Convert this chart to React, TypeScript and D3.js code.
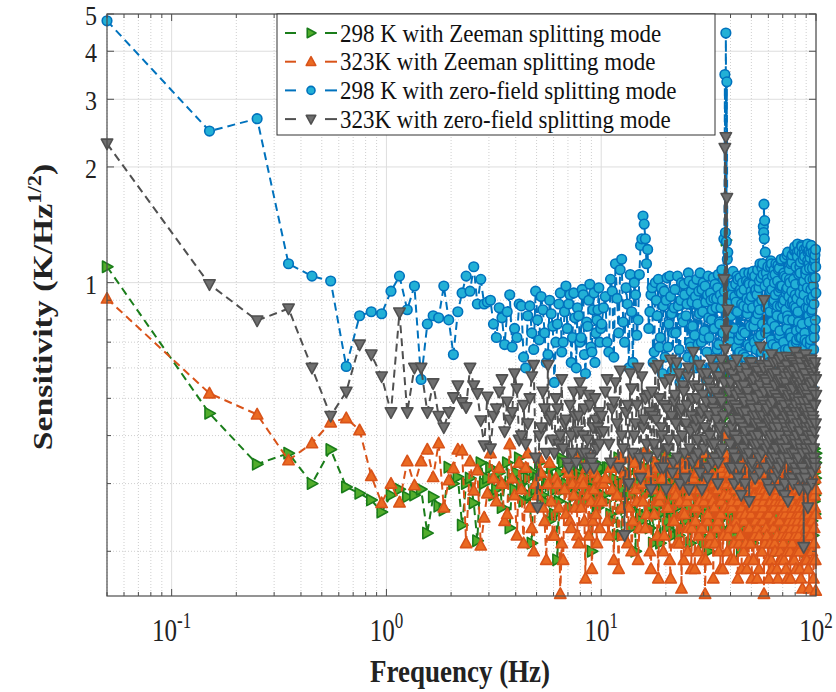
import React from "react";
import * as d3 from "d3";

// FFT frequency bins (Hz): start, spacing, count for each block.
// Block 3 holds the bins that fall between those of block 2.
const binStart = [0.05, 10.05, 10.25];
const binStep = [0.1, 0.4, 0.4];
const binCount = [100, 225, 225];

// 298 K with Zeeman splitting mode
const zeeman298 = [
  // 0.05 - 2.95 Hz
  1.1, 0.457, 0.337, 0.36, 0.3, 0.368, 0.294, 0.283, 0.272, 0.253,
  0.28, 0.29, 0.277, 0.28, 0.29, 0.223, 0.277, 0.262, 0.256, 0.331,
  0.3, 0.312, 0.234, 0.3, 0.31, 0.267, 0.213, 0.34, 0.3, 0.31,
  // 3.05 - 9.95 Hz
  0.33, 0.28, 0.29, 0.32, 0.26, 0.3, 0.34, 0.23, 0.31, 0.29, 0.32, 0.35, 0.3, 0.27, 0.33,
  0.31, 0.28, 0.21, 0.32, 0.29, 0.31, 0.34, 0.32, 0.28, 0.27, 0.3, 0.3, 0.24, 0.33, 0.31,
  0.25, 0.29, 0.19, 0.27, 0.32, 0.35, 0.34, 0.29, 0.3, 0.33, 0.29, 0.26, 0.33, 0.31, 0.31,
  0.35, 0.28, 0.3, 0.32, 0.27, 0.35, 0.31, 0.3, 0.34, 0.27, 0.29, 0.31, 0.33, 0.33, 0.28,
  0.2, 0.3, 0.29, 0.34, 0.32, 0.27, 0.26, 0.31, 0.3, 0.33,
  // 10.05 - 99.65 Hz
  0.3, 0.27, 0.33, 0.24, 0.29, 0.35, 0.22, 0.31, 0.26, 0.28, 0.34, 0.2, 0.3, 0.25, 0.32,
  0.28, 0.36, 0.23, 0.29, 0.31, 0.26, 0.34, 0.21, 0.3, 0.27, 0.33, 0.24, 0.35, 0.28, 0.22,
  0.31, 0.26, 0.34, 0.29, 0.23, 0.32, 0.27, 0.35, 0.25, 0.3, 0.21, 0.33, 0.28, 0.24, 0.31,
  0.36, 0.26, 0.29, 0.22, 0.33, 0.27, 0.31, 0.25, 0.34, 0.2, 0.3, 0.28, 0.35, 0.23, 0.29,
  0.32, 0.26, 0.34, 0.24, 0.3, 0.27, 0.33, 0.22, 0.35, 0.6, 1.29, 0.45, 0.31, 0.25, 0.28,
  0.34, 0.21, 0.3, 0.27, 0.36, 0.24, 0.32, 0.29, 0.23, 0.33, 0.26, 0.31, 0.2, 0.35, 0.28,
  0.25, 0.32, 0.29, 0.34, 0.22, 0.3, 0.27, 0.36, 0.24, 0.31, 0.28, 0.33, 0.21, 0.29, 0.35,
  0.26, 0.3, 0.23, 0.34, 0.28, 0.32, 0.25, 0.35, 0.22, 0.31, 0.27, 0.33, 0.29, 0.24, 0.36,
  0.3, 0.25, 0.33, 0.21, 0.29, 0.34, 0.27, 0.31, 0.23, 0.35, 0.28, 0.26, 0.32, 0.22, 0.3,
  0.36, 0.24, 0.31, 0.28, 0.33, 0.2, 0.29, 0.35, 0.26, 0.32, 0.23, 0.3, 0.34, 0.27, 0.25,
  0.31, 0.36, 0.22, 0.29, 0.33, 0.26, 0.35, 0.24, 0.3, 0.28, 0.34, 0.21, 0.32, 0.27, 0.29,
  0.35, 0.23, 0.31, 0.26, 0.34, 0.29, 0.22, 0.33, 0.28, 0.36, 0.25, 0.3, 0.27, 0.32, 0.24,
  0.29, 0.34, 0.21, 0.31, 0.27, 0.35, 0.25, 0.3, 0.33, 0.22, 0.36, 0.28, 0.26, 0.32, 0.3,
  0.24, 0.35, 0.29, 0.33, 0.2, 0.31, 0.27, 0.36, 0.25, 0.3, 0.34, 0.23, 0.32, 0.28, 0.35,
  0.26, 0.31, 0.37, 0.29, 0.24, 0.34, 0.3, 0.22, 0.33, 0.36, 0.27, 0.32, 0.25, 0.35, 0.34,
  // 10.25 - 99.85 Hz
  0.28, 0.33, 0.25, 0.31, 0.22, 0.34, 0.29, 0.26, 0.32, 0.23, 0.3, 0.35, 0.27, 0.24, 0.31,
  0.33, 0.26, 0.3, 0.21, 0.34, 0.28, 0.25, 0.32, 0.29, 0.36, 0.23, 0.3, 0.27, 0.33, 0.25,
  0.29, 0.34, 0.22, 0.31, 0.27, 0.35, 0.24, 0.3, 0.33, 0.26, 0.32, 0.28, 0.23, 0.34, 0.3,
  0.25, 0.32, 0.28, 0.35, 0.21, 0.31, 0.26, 0.33, 0.29, 0.24, 0.34, 0.27, 0.31, 0.22, 0.33,
  0.28, 0.35, 0.25, 0.3, 0.33, 0.23, 0.31, 0.27, 0.34, 0.35, 0.5, 0.29, 0.26, 0.32, 0.3,
  0.24, 0.33, 0.28, 0.31, 0.22, 0.35, 0.27, 0.3, 0.34, 0.25, 0.32, 0.29, 0.36, 0.23, 0.31,
  0.33, 0.27, 0.3, 0.24, 0.35, 0.29, 0.32, 0.21, 0.34, 0.28, 0.31, 0.26, 0.33, 0.3, 0.23,
  0.32, 0.28, 0.35, 0.25, 0.3, 0.34, 0.22, 0.31, 0.29, 0.33, 0.26, 0.36, 0.28, 0.31, 0.24,
  0.34, 0.29, 0.27, 0.32, 0.25, 0.35, 0.3, 0.23, 0.33, 0.28, 0.31, 0.35, 0.26, 0.3, 0.33,
  0.27, 0.32, 0.29, 0.24, 0.34, 0.3, 0.36, 0.25, 0.31, 0.28, 0.33, 0.22, 0.35, 0.29, 0.32,
  0.26, 0.33, 0.3, 0.35, 0.23, 0.31, 0.28, 0.34, 0.27, 0.32, 0.24, 0.36, 0.29, 0.33, 0.3,
  0.28, 0.35, 0.25, 0.32, 0.3, 0.27, 0.34, 0.31, 0.23, 0.33, 0.29, 0.36, 0.26, 0.31, 0.34,
  0.32, 0.27, 0.35, 0.24, 0.3, 0.33, 0.28, 0.36, 0.26, 0.31, 0.29, 0.34, 0.23, 0.35, 0.28,
  0.31, 0.26, 0.33, 0.29, 0.36, 0.25, 0.32, 0.3, 0.34, 0.22, 0.35, 0.28, 0.31, 0.33, 0.27,
  0.34, 0.29, 0.32, 0.36, 0.27, 0.31, 0.35, 0.25, 0.3, 0.33, 0.37, 0.28, 0.34, 0.31, 0.36,
];

// 323K with Zeeman splitting mode
const zeeman323 = [
  0.909, 0.515, 0.454, 0.345, 0.382, 0.433, 0.444, 0.413, 0.314, 0.267,
  0.3, 0.268, 0.343, 0.297, 0.343, 0.368, 0.312, 0.382, 0.26, 0.306,
  0.329, 0.368, 0.366, 0.21, 0.343, 0.288, 0.325, 0.207, 0.245, 0.283,
  0.36, 0.31, 0.27, 0.33, 0.3, 0.24, 0.25, 0.38, 0.31, 0.28, 0.22, 0.34, 0.29, 0.21, 0.33,
  0.36, 0.26, 0.23, 0.2, 0.3, 0.28, 0.35, 0.32, 0.26, 0.24, 0.19, 0.3, 0.34, 0.27, 0.22,
  0.22, 0.31, 0.3, 0.26, 0.155, 0.21, 0.19, 0.29, 0.25, 0.33, 0.32, 0.24, 0.23, 0.3, 0.28,
  0.26, 0.35, 0.22, 0.21, 0.3, 0.26, 0.31, 0.3, 0.24, 0.17, 0.33, 0.28, 0.22, 0.35, 0.27,
  0.18, 0.24, 0.29, 0.32, 0.25, 0.21, 0.31, 0.27, 0.23, 0.3,
  0.27, 0.31, 0.22, 0.29, 0.34, 0.18, 0.26, 0.32, 0.21, 0.35, 0.24, 0.29, 0.19, 0.33, 0.27,
  0.23, 0.36, 0.2, 0.3, 0.25, 0.33, 0.17, 0.28, 0.31, 0.22, 0.34, 0.26, 0.19, 0.32, 0.24,
  0.29, 0.21, 0.35, 0.27, 0.16, 0.3, 0.25, 0.33, 0.2, 0.28, 0.36, 0.23, 0.31, 0.18, 0.26,
  0.32, 0.22, 0.29, 0.34, 0.19, 0.27, 0.155, 0.3, 0.24, 0.33, 0.21, 0.28, 0.35, 0.17, 0.26,
  0.31, 0.23, 0.29, 0.2, 0.34, 0.25, 0.32, 0.18, 0.28, 0.36, 0.4, 0.3, 0.22, 0.33, 0.26,
  0.19, 0.31, 0.27, 0.35, 0.21, 0.29, 0.24, 0.33, 0.17, 0.28, 0.32, 0.22, 0.3, 0.26, 0.34,
  0.2, 0.29, 0.25, 0.36, 0.18, 0.31, 0.27, 0.23, 0.33, 0.21, 0.3, 0.26, 0.35, 0.19, 0.28,
  0.32, 0.24, 0.3, 0.17, 0.27, 0.34, 0.22, 0.29, 0.25, 0.33, 0.2, 0.31, 0.26, 0.155, 0.29,
  0.35, 0.23, 0.28, 0.32, 0.19, 0.3, 0.25, 0.34, 0.21, 0.27, 0.31, 0.18, 0.29, 0.24, 0.33,
  0.26, 0.2, 0.35, 0.28, 0.22, 0.31, 0.17, 0.29, 0.34, 0.24, 0.27, 0.32, 0.19, 0.3, 0.25,
  0.33, 0.21, 0.28, 0.36, 0.23, 0.3, 0.18, 0.26, 0.32, 0.2, 0.34, 0.27, 0.22, 0.29, 0.31,
  0.17, 0.25, 0.33, 0.28, 0.21, 0.35, 0.24, 0.3, 0.19, 0.32, 0.26, 0.29, 0.23, 0.34, 0.2,
  0.28, 0.31, 0.22, 0.36, 0.25, 0.18, 0.3, 0.27, 0.33, 0.21, 0.29, 0.16, 0.32, 0.24, 0.35,
  0.26, 0.3, 0.19, 0.28, 0.34, 0.23, 0.31, 0.21, 0.27, 0.33, 0.18, 0.29, 0.25, 0.35, 0.22,
  0.3, 0.24, 0.32, 0.27, 0.2, 0.34, 0.26, 0.29, 0.17, 0.31, 0.23, 0.28, 0.33, 0.19, 0.158,
  0.3, 0.24, 0.33, 0.19, 0.28, 0.35, 0.22, 0.31, 0.26, 0.2, 0.34, 0.27, 0.23, 0.3, 0.36,
  0.25, 0.32, 0.18, 0.29, 0.34, 0.22, 0.27, 0.31, 0.2, 0.35, 0.26, 0.29, 0.17, 0.33, 0.24,
  0.28, 0.33, 0.21, 0.3, 0.25, 0.19, 0.34, 0.27, 0.23, 0.31, 0.18, 0.29, 0.35, 0.24, 0.32,
  0.2, 0.27, 0.33, 0.23, 0.3, 0.36, 0.19, 0.28, 0.25, 0.32, 0.22, 0.34, 0.27, 0.3, 0.21,
  0.29, 0.35, 0.24, 0.31, 0.18, 0.27, 0.33, 0.22, 0.3, 0.26, 0.34, 0.2, 0.28, 0.32, 0.23,
  0.34, 0.26, 0.3, 0.19, 0.29, 0.33, 0.23, 0.36, 0.27, 0.21, 0.31, 0.25, 0.18, 0.32, 0.28,
  0.24, 0.33, 0.21, 0.3, 0.27, 0.35, 0.19, 0.29, 0.32, 0.25, 0.17, 0.31, 0.28, 0.34, 0.22,
  0.3, 0.26, 0.35, 0.23, 0.31, 0.18, 0.28, 0.33, 0.2, 0.29, 0.36, 0.24, 0.27, 0.32, 0.21,
  0.28, 0.34, 0.22, 0.3, 0.25, 0.17, 0.33, 0.27, 0.31, 0.19, 0.35, 0.26, 0.29, 0.23, 0.32,
  0.21, 0.3, 0.27, 0.34, 0.18, 0.29, 0.33, 0.24, 0.31, 0.26, 0.2, 0.35, 0.28, 0.22, 0.3,
  0.27, 0.33, 0.19, 0.31, 0.25, 0.36, 0.22, 0.29, 0.17, 0.32, 0.28, 0.24, 0.34, 0.3, 0.2,
  0.32, 0.23, 0.29, 0.35, 0.26, 0.19, 0.31, 0.27, 0.34, 0.22, 0.3, 0.18, 0.33, 0.25, 0.29,
  0.24, 0.35, 0.28, 0.2, 0.32, 0.26, 0.3, 0.17, 0.34, 0.29, 0.23, 0.31, 0.27, 0.36, 0.21,
  0.33, 0.25, 0.3, 0.22, 0.35, 0.28, 0.19, 0.32, 0.26, 0.3, 0.24, 0.34, 0.16, 0.29, 0.31,
  0.22, 0.32, 0.27, 0.35, 0.24, 0.3, 0.19, 0.33, 0.28, 0.21, 0.34, 0.26, 0.31, 0.25, 0.29,
];

// 298 K with zero-field splitting mode
const zeroField298 = [
  4.8, 2.48, 2.67, 1.12, 1.04, 1.01, 0.605, 0.82, 0.84, 0.83,
  0.95, 1.04, 0.85, 0.98, 0.56, 0.78, 0.82, 0.81, 0.98, 0.8,
  0.65, 0.84, 0.94, 1.04, 0.95, 1.1, 0.88, 1.02, 0.88, 0.89,
  0.9, 0.78, 0.72, 0.86, 0.81, 0.69, 0.84, 0.93, 0.68, 0.76, 0.72, 0.88, 0.87, 0.64, 0.6,
  0.82, 0.87, 0.74, 0.67, 0.95, 0.8, 0.71, 0.92, 0.85, 0.74, 0.62, 0.65, 0.9, 0.83, 0.77,
  0.55, 0.7, 0.78, 0.88, 0.94, 0.66, 0.7, 0.84, 0.98, 0.76, 0.88, 0.93, 0.62, 0.72, 0.94,
  0.81, 0.6, 0.86, 0.82, 0.7, 0.72, 0.96, 0.93, 0.65, 0.58, 0.79, 0.77, 0.9, 0.99, 0.68,
  0.66, 0.85, 0.94, 0.62, 0.74, 0.8, 0.85, 0.97, 0.7, 0.76,
  0.78, 0.92, 0.66, 0.95, 1.12, 0.74, 1.15, 0.7, 0.88, 1.05, 0.62, 0.93, 0.8, 1.25, 1.49,
  1.3, 1.22, 0.84, 0.97, 0.66, 0.9, 1.02, 0.72, 0.58, 0.95, 0.9, 0.68, 1.04, 0.83, 0.74,
  0.96, 0.61, 0.87, 0.55, 1.0, 0.79, 0.93, 0.82, 0.64, 1.01, 0.68, 0.89, 0.99, 0.73, 0.6,
  0.88, 0.95, 1.06, 0.7, 0.84, 0.72, 0.98, 0.56, 0.93, 0.81, 0.52, 0.9, 0.85, 1.03, 0.76,
  0.64, 0.91, 0.97, 0.69, 0.78, 0.86, 1.08, 0.74, 1.3, 3.48, 4.46, 3.33, 1.2, 1.05, 0.82,
  0.7, 0.93, 0.98, 0.62, 0.57, 0.85, 0.89, 1.04, 1.02, 0.71, 0.66, 0.96, 0.94, 0.58, 0.75,
  0.87, 1.06, 0.64, 0.5, 0.91, 0.86, 1.0, 0.99, 0.68, 0.63, 0.92, 1.05, 1.07, 0.77, 0.7,
  0.95, 0.96, 0.6, 0.58, 0.83, 0.88, 1.01, 1.12, 0.73, 0.66, 1.09, 1.12, 1.4, 1.6, 1.45,
  1.2, 0.86, 0.76, 1.02, 1.1, 0.68, 0.62, 0.94, 0.95, 1.14, 1.12, 0.79, 0.69, 0.88, 0.9,
  1.0, 1.05, 0.61, 0.54, 0.84, 0.87, 1.11, 1.08, 0.72, 0.73, 0.97, 0.98, 1.15, 0.66, 0.6,
  0.88, 0.91, 1.06, 1.04, 0.57, 0.67, 0.94, 0.96, 1.18, 0.82, 0.8, 0.59, 0.55, 1.02, 1.0,
  0.74, 0.72, 1.16, 1.13, 0.88, 0.9, 0.63, 0.61, 1.21, 1.24, 0.93, 0.86, 0.7, 0.71, 1.2,
  1.26, 0.84, 0.79, 0.52, 0.56, 1.1, 1.06, 0.76, 0.72, 1.25, 1.19, 0.64, 0.66, 0.97, 1.01,
  1.22, 1.17, 0.71, 0.68, 1.05, 1.08, 0.58, 0.62, 1.26, 1.2, 0.86, 0.82, 1.12, 1.09, 0.66,
  0.69, 1.2, 1.24, 0.9, 0.85, 0.48, 0.53, 1.02, 0.98, 0.75, 0.72, 1.15, 1.18, 0.8, 1.1,
  0.86, 0.7, 1.02, 0.64, 0.91, 1.08, 0.79, 0.97, 0.6, 0.84, 1.0, 0.73, 1.05, 1.3, 1.42,
  1.12, 0.76, 0.93, 0.62, 1.0, 0.82, 0.68, 0.97, 0.87, 0.64, 1.03, 0.78, 0.92, 0.59, 0.86,
  0.74, 1.04, 0.67, 0.9, 0.81, 0.99, 0.58, 0.88, 1.06, 0.7, 0.95, 0.77, 0.63, 0.92, 1.02,
  0.69, 0.83, 0.6, 0.96, 1.0, 0.75, 0.89, 0.66, 1.04, 0.72, 0.94, 0.8, 0.61, 0.91, 0.99,
  0.86, 0.67, 1.05, 0.79, 0.93, 0.59, 0.9, 1.02, 0.95, 1.35, 1.28, 1.15, 0.88, 0.73, 0.98,
  0.82, 0.63, 1.07, 0.76, 0.92, 0.99, 0.68, 0.84, 0.61, 0.95, 1.03, 0.73, 0.88, 1.0, 0.65,
  0.96, 0.74, 0.58, 1.01, 0.83, 0.69, 1.06, 0.9, 0.77, 0.95, 0.62, 0.86, 0.99, 0.71, 1.04,
  0.8, 0.67, 0.93, 1.08, 0.72, 0.97, 0.85, 0.6, 1.03, 0.9, 0.78, 1.05, 1.35, 1.3, 0.98,
  0.74, 1.06, 0.88, 0.65, 1.0, 0.92, 0.57, 0.84, 1.1, 0.71, 0.96, 1.04, 0.63, 0.89, 1.08,
  0.77, 0.93, 1.12, 0.68, 0.82, 1.01, 0.59, 0.95, 1.09, 0.75, 0.87, 1.14, 0.64, 0.98, 0.81,
  1.05, 0.7, 0.9, 1.16, 0.62, 0.85, 1.03, 0.76, 0.97, 1.2, 0.67, 0.92, 1.08, 0.73, 0.88,
  1.12, 0.58, 0.95, 1.18, 0.8, 0.69, 1.02, 0.87, 1.22, 0.64, 0.99, 1.1, 0.75, 0.91, 1.17,
  0.83, 0.66, 1.05, 1.21, 0.72, 0.94, 1.13, 0.6, 0.89, 1.24, 0.78, 1.0, 1.15, 0.68, 0.93,
  1.19, 0.74, 0.55, 1.07, 0.86, 1.23, 0.7, 0.97, 1.14, 0.63, 0.9, 1.21, 0.79, 1.02, 1.16,
  0.71, 0.96, 1.25, 0.84, 0.61, 1.09, 0.92, 1.2, 0.67, 0.88, 1.13, 0.76, 1.03, 1.22, 0.94,
];

// 323K with zero-field splitting mode
const zeroField323 = [
  2.3, 0.99, 0.797, 0.856, 0.6, 0.45, 0.52, 0.69, 0.65, 0.57,
  0.46, 0.836, 0.46, 0.6, 0.6, 0.46, 0.547, 0.45, 0.42, 0.46,
  0.503, 0.54, 0.488, 0.474, 0.6, 0.54, 0.515, 0.438, 0.377, 0.505,
  0.37, 0.45, 0.47, 0.52, 0.56, 0.41, 0.49, 0.44, 0.46, 0.58, 0.53, 0.39, 0.4, 0.48, 0.38,
  0.43, 0.5, 0.57, 0.61, 0.35, 0.26, 0.4, 0.42, 0.52, 0.47, 0.36, 0.61, 0.44, 0.45, 0.39,
  0.36, 0.5, 0.47, 0.38, 0.4, 0.56, 0.37, 0.43, 0.44, 0.34, 0.33, 0.48, 0.4, 0.36, 0.52,
  0.45, 0.34, 0.41, 0.45, 0.55, 0.52, 0.36, 0.4, 0.47, 0.36, 0.33, 0.39, 0.51, 0.48, 0.35,
  0.34, 0.42, 0.33, 0.5, 0.44, 0.37, 0.42, 0.46, 0.38, 0.41,
  0.45, 0.52, 0.38, 0.47, 0.55, 0.33, 0.4, 0.22, 0.48, 0.58, 0.36, 0.43, 0.6, 0.31, 0.42,
  0.5, 0.35, 0.46, 0.52, 0.38, 0.44, 0.61, 0.33, 0.4, 0.48, 0.29, 0.37, 0.56, 0.45, 0.34,
  0.51, 0.62, 0.39, 0.3, 0.47, 0.54, 0.36, 0.43, 0.57, 0.29, 0.41, 0.5, 0.66, 0.35, 0.44,
  0.39, 0.53, 0.32, 0.46, 0.58, 0.37, 0.42, 0.49, 0.31, 0.55, 0.4, 0.63, 0.34, 0.47, 0.38,
  0.52, 0.44, 0.3, 0.57, 0.41, 0.36, 0.49, 0.6, 1.02, 2.24, 2.39, 1.66, 0.85, 0.47, 0.33,
  0.55, 0.42, 0.58, 0.36, 0.3, 0.48, 0.51, 0.63, 0.39, 0.44, 0.33, 0.54, 0.28, 0.46, 0.57,
  0.37, 0.49, 0.41, 0.6, 0.35, 0.52, 0.44, 0.27, 0.5, 0.39, 0.62, 0.34, 0.47, 0.56, 0.4,
  0.31, 0.53, 0.45, 0.38, 0.59, 0.43, 0.35, 0.51, 0.68, 0.42, 0.36, 0.57, 0.45, 0.9, 0.48,
  0.41, 0.33, 0.55, 0.47, 0.38, 0.61, 0.44, 0.29, 0.52, 0.4, 0.65, 0.35, 0.49, 0.58, 0.42,
  0.31, 0.54, 0.46, 0.37, 0.62, 0.43, 0.5, 0.33, 0.56, 0.4, 0.29, 0.47, 0.64, 0.38, 0.52,
  0.44, 0.35, 0.59, 0.48, 0.3, 0.55, 0.42, 0.37, 0.61, 0.46, 0.27, 0.51, 0.4, 0.57, 0.34,
  0.48, 0.63, 0.39, 0.45, 0.31, 0.53, 0.42, 0.59, 0.36, 0.5, 0.66, 0.38, 0.46, 0.32, 0.55,
  0.43, 0.6, 0.35, 0.49, 0.29, 0.54, 0.41, 0.62, 0.37, 0.47, 0.57, 0.33, 0.52, 0.44, 0.205,
  0.39, 0.58, 0.46, 0.31, 0.65, 0.42, 0.53, 0.36, 0.49, 0.26, 0.56, 0.4, 0.61, 0.34, 0.47,
  0.54, 0.37, 0.63, 0.43, 0.3, 0.58, 0.45, 0.39, 0.52, 0.35, 0.6, 0.41, 0.48, 0.33, 0.56,
  0.41, 0.56, 0.34, 0.49, 0.43, 0.59, 0.37, 0.46, 0.3, 0.53, 0.4, 0.48, 0.35, 0.57, 0.44,
  0.38, 0.51, 0.29, 0.45, 0.6, 0.36, 0.5, 0.42, 0.33, 0.55, 0.47, 0.39, 0.63, 0.32, 0.49,
  0.43, 0.35, 0.58, 0.46, 0.4, 0.52, 0.31, 0.48, 0.6, 0.37, 0.45, 0.34, 0.54, 0.42, 0.5,
  0.36, 0.61, 0.44, 0.29, 0.51, 0.47, 0.39, 0.58, 0.33, 0.45, 0.53, 0.38, 0.49, 0.6, 0.35,
  0.46, 0.57, 0.34, 0.5, 0.42, 0.63, 0.37, 0.45, 0.55, 0.67, 0.75, 0.6, 0.41, 0.52, 0.38,
  0.49, 0.33, 0.44, 0.61, 0.4, 0.35, 0.56, 0.47, 0.31, 0.52, 0.43, 0.59, 0.37, 0.5, 0.42,
  0.54, 0.3, 0.46, 0.39, 0.58, 0.44, 0.36, 0.62, 0.41, 0.48, 0.33, 0.55, 0.45, 0.38, 0.6,
  0.43, 0.5, 0.36, 0.57, 0.4, 0.47, 0.32, 0.54, 0.45, 0.61, 0.38, 0.49, 0.6, 0.52, 0.41,
  0.56, 0.37, 0.46, 0.3, 0.53, 0.43, 0.59, 0.39, 0.48, 0.34, 0.57, 0.44, 0.36, 0.62, 0.45,
  0.4, 0.51, 0.35, 0.58, 0.46, 0.32, 0.55, 0.42, 0.63, 0.38, 0.49, 0.56, 0.34, 0.47, 0.6,
  0.37, 0.52, 0.43, 0.28, 0.57, 0.45, 0.39, 0.64, 0.41, 0.5, 0.35, 0.58, 0.46, 0.31, 0.53,
  0.42, 0.59, 0.36, 0.51, 0.44, 0.3, 0.62, 0.47, 0.39, 0.55, 0.33, 0.48, 0.61, 0.4, 0.45,
  0.57, 0.34, 0.5, 0.41, 0.64, 0.38, 0.46, 0.31, 0.55, 0.43, 0.6, 0.36, 0.49, 0.39, 0.53,
  0.44, 0.32, 0.58, 0.47, 0.37, 0.62, 0.41, 0.51, 0.29, 0.56, 0.45, 0.38, 0.63, 0.42, 0.5,
  0.35, 0.59, 0.46, 0.4, 0.55, 0.32, 0.61, 0.44, 0.37, 0.57, 0.48, 0.34, 0.62, 0.43, 0.51,
];

const seriesNames = [
  "298 K with Zeeman splitting mode",
  "323K with Zeeman splitting mode",
  "298 K with zero-field splitting mode",
  "323K with zero-field splitting mode",
];
const seriesValues = [zeeman298, zeeman323, zeroField298, zeroField323];
const seriesMarkers = ["right", "up", "circle", "down"];
const lineColors = ["#1a7d1a", "#d95319", "#0072bd", "#505050"];
const faceColors = ["#52ad2c", "#ea6a22", "#22b0d6", "#6f6f6f"];

const yTicks = [1, 2, 3, 4, 5];
const yMinor = [0.2, 0.3, 0.4, 0.5, 0.6, 0.7, 0.8, 0.9];
const xDecades = [0.1, 1, 10, 100];
const xTickExp = ["-1", "0", "1", "2"];

const frequencies: number[] = [];
binStart.forEach((s, b) => {
  for (let i = 0; i < binCount[b]; i++) frequencies.push(+(s + i * binStep[b]).toFixed(2));
});

const L = 107, R = 816, T = 14, B = 596;
const FONT = "'Liberation Serif', 'Times New Roman', serif";

const x = d3.scaleLog().domain([0.05, 100]).range([L, R]);
const y = d3.scaleLog().domain([0.153, 5]).range([B, T]);

const xMinor: number[] = [];
[0.01, 0.1, 1, 10].forEach((d) => {
  for (let m = 2; m <= 9; m++) {
    const v = d * m;
    if (v >= 0.05 && v <= 100) xMinor.push(v);
  }
});

function Marker({ kind, cx, cy, s, stroke, fill }: any) {
  if (kind === "circle") {
    return <circle cx={cx} cy={cy} r={s * 0.8} fill={fill} stroke={stroke} strokeWidth={1.6} />;
  }
  let pts: number[][];
  if (kind === "up") pts = [[cx, cy - s], [cx - s * 0.95, cy + s * 0.75], [cx + s * 0.95, cy + s * 0.75]];
  else if (kind === "down") pts = [[cx, cy + s], [cx - s * 0.95, cy - s * 0.75], [cx + s * 0.95, cy - s * 0.75]];
  else pts = [[cx + s, cy], [cx - s * 0.75, cy - s * 0.95], [cx - s * 0.75, cy + s * 0.95]];
  return <polygon points={pts.map((p) => p.join(",")).join(" ")} fill={fill} stroke={stroke} strokeWidth={1.6} strokeLinejoin="round" />;
}

type Pt = { f: number; v: number };

export default function App() {
  const line = d3
    .line<Pt>()
    .x((d) => x(d.f))
    .y((d) => y(d.v));

  const series = seriesValues.map((vals) =>
    vals.map((v, i) => ({ f: frequencies[i], v })).sort((a, b) => a.f - b.f)
  );

  return (
    <svg width={836} height={692} style={{ position: "absolute", left: 0, top: 0, background: "#fff" }} fontFamily={FONT}>
      {/* grid */}
      {xMinor.map((v) => (
        <line key={"xm" + v} x1={x(v)} x2={x(v)} y1={T} y2={B} stroke="#cfcfcf" strokeDasharray="1,2" />
      ))}
      {yMinor.map((v) => (
        <line key={"ym" + v} x1={L} x2={R} y1={y(v)} y2={y(v)} stroke="#cfcfcf" strokeDasharray="1,2" />
      ))}
      {xDecades.map((v) => (
        <line key={"xg" + v} x1={x(v)} x2={x(v)} y1={T} y2={B} stroke="#dedede" />
      ))}
      {yTicks.map((v) => (
        <line key={"yg" + v} x1={L} x2={R} y1={y(v)} y2={y(v)} stroke="#dedede" />
      ))}

      {/* series */}
      {series.map((pts, si) => (
        <g key={"s" + si}>
          <path d={line(pts) || ""} fill="none" stroke={lineColors[si]} strokeWidth={2} strokeDasharray="8,5" />
          {pts.map((d, i) => (
            <Marker key={i} kind={seriesMarkers[si]} cx={x(d.f)} cy={y(d.v)} s={6} stroke={lineColors[si]} fill={faceColors[si]} />
          ))}
        </g>
      ))}

      {/* axes box and ticks */}
      <rect x={L} y={T} width={R - L} height={B - T} fill="none" stroke="#4d4d4d" strokeWidth={1.2} />
      {yTicks.map((v) => (
        <g key={"yt" + v}>
          <line x1={L} x2={L + 7} y1={y(v)} y2={y(v)} stroke="#4d4d4d" />
          <line x1={R} x2={R - 7} y1={y(v)} y2={y(v)} stroke="#4d4d4d" />
          <text transform={`translate(${L - 10},${y(v) + 11}) scale(1,1.15)`} textAnchor="end" fontSize={24} fill="#222">
            {v}
          </text>
        </g>
      ))}
      {yMinor.map((v) => (
        <g key={"ymt" + v}>
          <line x1={L} x2={L + 4} y1={y(v)} y2={y(v)} stroke="#4d4d4d" />
          <line x1={R} x2={R - 4} y1={y(v)} y2={y(v)} stroke="#4d4d4d" />
        </g>
      ))}
      {xMinor.map((v) => (
        <g key={"xmt" + v}>
          <line x1={x(v)} x2={x(v)} y1={B} y2={B - 4} stroke="#4d4d4d" />
          <line x1={x(v)} x2={x(v)} y1={T} y2={T + 4} stroke="#4d4d4d" />
        </g>
      ))}
      {xDecades.map((v, i) => (
        <g key={"xt" + v}>
          <line x1={x(v)} x2={x(v)} y1={B} y2={B - 7} stroke="#4d4d4d" />
          <line x1={x(v)} x2={x(v)} y1={T} y2={T + 7} stroke="#4d4d4d" />
          <text transform={`translate(${x(v)},641) scale(1,1.3)`} textAnchor="middle" fontSize={25} fill="#222">
            10
            <tspan dy={-10} fontSize={17}>
              {xTickExp[i]}
            </tspan>
          </text>
        </g>
      ))}

      {/* axis labels */}
      <text transform="translate(460,682) scale(1,1.2)" textAnchor="middle" fontSize={27} fontWeight="bold" fill="#222">
        Frequency (Hz)
      </text>
      <text transform="translate(52,307) rotate(-90) scale(1.25,1)" textAnchor="middle" fontSize={27} fontWeight="bold" fill="#222">
        Sensitivity (K/Hz
        <tspan dy={-11} fontSize={18}>
          1/2
        </tspan>
        <tspan dy={11}>)</tspan>
      </text>

      {/* legend */}
      <rect x={277} y={T} width={438} height={121} fill="#fff" stroke="#333" strokeWidth={1} />
      {seriesNames.map((name, i) => {
        const ry = 33 + i * 28.7;
        return (
          <g key={"lg" + i}>
            <line x1={285} x2={296} y1={ry} y2={ry} stroke={lineColors[i]} strokeWidth={2} />
            <line x1={325} x2={337} y1={ry} y2={ry} stroke={lineColors[i]} strokeWidth={2} />
            <Marker kind={seriesMarkers[i]} cx={311} cy={ry} s={5} stroke={lineColors[i]} fill={faceColors[i]} />
            <text transform={`translate(340,${ry + 8.5}) scale(1,1.12)`} fontSize={23} fill="#111">
              {name}
            </text>
          </g>
        );
      })}
    </svg>
  );
}
